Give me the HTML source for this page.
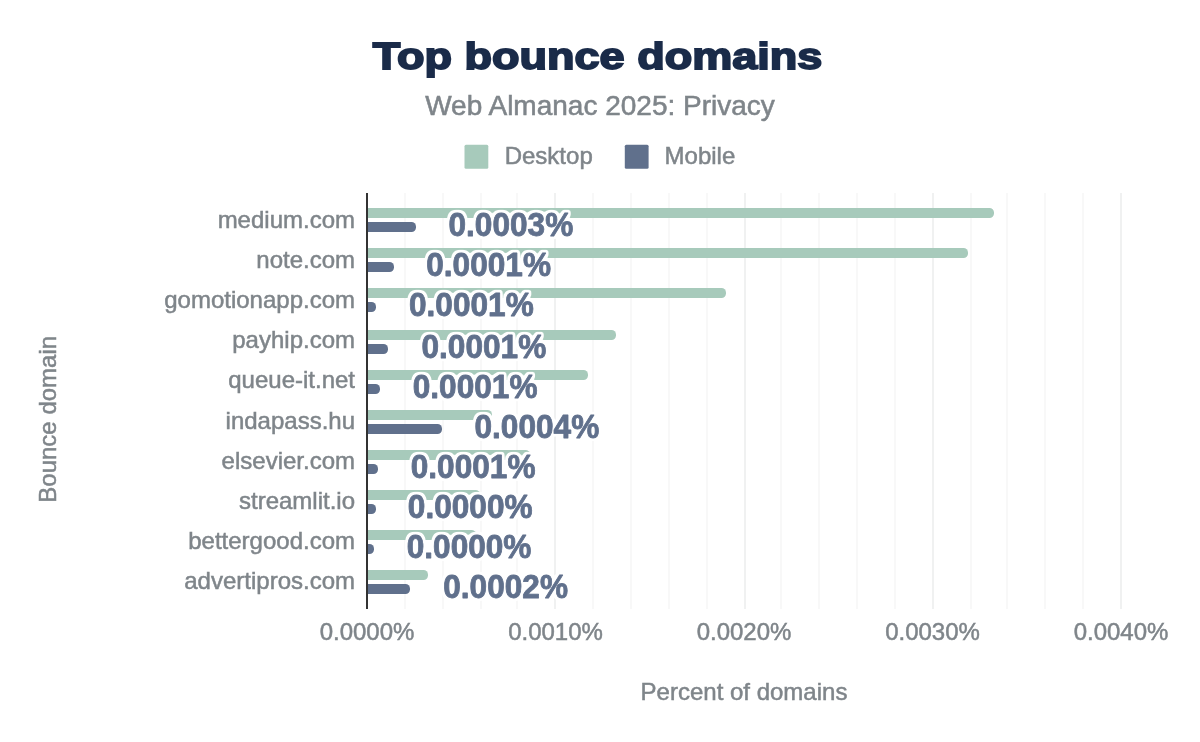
<!DOCTYPE html>
<html lang="en"><head><meta charset="utf-8"><title>Top bounce domains</title>
<style>
html,body{margin:0;padding:0;background:#fff;}
body{width:1200px;height:742px;overflow:hidden;}
svg{display:block;}
text{font-family:"Liberation Sans",Arial,Helvetica,sans-serif;}
.t{font-size:24px;fill:#7f858a;stroke:#7f858a;stroke-width:0.5px;}
.dl{font-size:32px;font-weight:bold;fill:#60708c;stroke:#60708c;stroke-width:0.8px;stroke-linejoin:round;filter:url(#halo);}
</style></head><body>
<svg width="1200" height="742" viewBox="0 0 1200 742">
<rect width="1200" height="742" fill="#fff"/>
<filter id="halo" x="-6%" y="-20%" width="112%" height="140%" color-interpolation-filters="sRGB">
<feMorphology in="SourceAlpha" operator="dilate" radius="1.6" result="m"/>
<feGaussianBlur in="m" stdDeviation="0.9" result="b"/>
<feComponentTransfer in="b" result="t"><feFuncA type="linear" slope="3.5" intercept="-0.6"/></feComponentTransfer>
<feFlood flood-color="#fff" result="w"/>
<feComposite in="w" in2="t" operator="in" result="h"/>
<feMerge><feMergeNode in="h"/><feMergeNode in="SourceGraphic"/></feMerge>
</filter>
<text id="title" x="597.6" y="68.6" text-anchor="middle" font-size="37.5" font-weight="bold" fill="#1a2b49" stroke="#1a2b49" stroke-width="1.8" stroke-linejoin="miter" textLength="449.6" lengthAdjust="spacingAndGlyphs">Top bounce domains</text>
<text id="sub" x="600" y="115" text-anchor="middle" font-size="28" fill="#7f858a" stroke="#7f858a" stroke-width="0.55">Web Almanac 2025: Privacy</text>
<rect x="464.5" y="144.8" width="23.8" height="24" rx="1.5" fill="#a7cabb"/>
<text class="t" x="504.7" y="163.7">Desktop</text>
<rect x="624.8" y="144.8" width="23.8" height="24" rx="1.5" fill="#60708c"/>
<text class="t" x="664.6" y="163.7">Mobile</text>
<rect x="404" y="193" width="2" height="416" fill="#f8f8f8"/>
<rect x="442" y="193" width="2" height="416" fill="#f8f8f8"/>
<rect x="480" y="193" width="2" height="416" fill="#f8f8f8"/>
<rect x="516" y="193" width="2" height="416" fill="#f8f8f8"/>
<rect x="554" y="193" width="2" height="416" fill="#f0f1f1"/>
<rect x="592" y="193" width="2" height="416" fill="#f8f8f8"/>
<rect x="630" y="193" width="2" height="416" fill="#f8f8f8"/>
<rect x="668" y="193" width="2" height="416" fill="#f8f8f8"/>
<rect x="706" y="193" width="2" height="416" fill="#f8f8f8"/>
<rect x="744" y="193" width="2" height="416" fill="#f0f1f1"/>
<rect x="780" y="193" width="2" height="416" fill="#f8f8f8"/>
<rect x="818" y="193" width="2" height="416" fill="#f8f8f8"/>
<rect x="856" y="193" width="2" height="416" fill="#f8f8f8"/>
<rect x="894" y="193" width="2" height="416" fill="#f8f8f8"/>
<rect x="932" y="193" width="2" height="416" fill="#f0f1f1"/>
<rect x="970" y="193" width="2" height="416" fill="#f8f8f8"/>
<rect x="1006" y="193" width="2" height="416" fill="#f8f8f8"/>
<rect x="1044" y="193" width="2" height="416" fill="#f8f8f8"/>
<rect x="1082" y="193" width="2" height="416" fill="#f8f8f8"/>
<rect x="1120" y="193" width="2" height="416" fill="#f0f1f1"/>
<path d="M367.00 208.00 H989.50 a4.5 4.5 0 0 1 4.5 4.5 v1 a4.5 4.5 0 0 1 -4.5 4.5 H367.00 Z" fill="#a7cabb"/>
<path d="M367.00 222.00 H411.50 a4.5 4.5 0 0 1 4.5 4.5 v1 a4.5 4.5 0 0 1 -4.5 4.5 H367.00 Z" fill="#60708c"/>
<path d="M367.00 248.00 H963.50 a4.5 4.5 0 0 1 4.5 4.5 v1 a4.5 4.5 0 0 1 -4.5 4.5 H367.00 Z" fill="#a7cabb"/>
<path d="M367.00 262.00 H389.50 a4.5 4.5 0 0 1 4.5 4.5 v1 a4.5 4.5 0 0 1 -4.5 4.5 H367.00 Z" fill="#60708c"/>
<path d="M367.00 288.00 H721.50 a4.5 4.5 0 0 1 4.5 4.5 v1 a4.5 4.5 0 0 1 -4.5 4.5 H367.00 Z" fill="#a7cabb"/>
<path d="M367.00 302.00 H371.50 a4.5 4.5 0 0 1 4.5 4.5 v1 a4.5 4.5 0 0 1 -4.5 4.5 H367.00 Z" fill="#60708c"/>
<path d="M367.00 330.00 H611.50 a4.5 4.5 0 0 1 4.5 4.5 v1 a4.5 4.5 0 0 1 -4.5 4.5 H367.00 Z" fill="#a7cabb"/>
<path d="M367.00 344.00 H383.50 a4.5 4.5 0 0 1 4.5 4.5 v1 a4.5 4.5 0 0 1 -4.5 4.5 H367.00 Z" fill="#60708c"/>
<path d="M367.00 370.00 H583.50 a4.5 4.5 0 0 1 4.5 4.5 v1 a4.5 4.5 0 0 1 -4.5 4.5 H367.00 Z" fill="#a7cabb"/>
<path d="M367.00 384.00 H375.50 a4.5 4.5 0 0 1 4.5 4.5 v1 a4.5 4.5 0 0 1 -4.5 4.5 H367.00 Z" fill="#60708c"/>
<path d="M367.00 410.00 H487.50 a4.5 4.5 0 0 1 4.5 4.5 v1 a4.5 4.5 0 0 1 -4.5 4.5 H367.00 Z" fill="#a7cabb"/>
<path d="M367.00 424.00 H437.50 a4.5 4.5 0 0 1 4.5 4.5 v1 a4.5 4.5 0 0 1 -4.5 4.5 H367.00 Z" fill="#60708c"/>
<path d="M367.00 450.00 H525.50 a4.5 4.5 0 0 1 4.5 4.5 v1 a4.5 4.5 0 0 1 -4.5 4.5 H367.00 Z" fill="#a7cabb"/>
<path d="M367.00 464.00 H373.50 a4.5 4.5 0 0 1 4.5 4.5 v1 a4.5 4.5 0 0 1 -4.5 4.5 H367.00 Z" fill="#60708c"/>
<path d="M367.00 490.00 H475.50 a4.5 4.5 0 0 1 4.5 4.5 v1 a4.5 4.5 0 0 1 -4.5 4.5 H367.00 Z" fill="#a7cabb"/>
<path d="M367.00 504.00 H371.50 a4.5 4.5 0 0 1 4.5 4.5 v1 a4.5 4.5 0 0 1 -4.5 4.5 H367.00 Z" fill="#60708c"/>
<path d="M367.00 530.00 H471.50 a4.5 4.5 0 0 1 4.5 4.5 v1 a4.5 4.5 0 0 1 -4.5 4.5 H367.00 Z" fill="#a7cabb"/>
<path d="M367.00 544.00 H369.50 a4.5 4.5 0 0 1 4.5 4.5 v1 a4.5 4.5 0 0 1 -4.5 4.5 H367.00 Z" fill="#60708c"/>
<path d="M367.00 570.00 H423.50 a4.5 4.5 0 0 1 4.5 4.5 v1 a4.5 4.5 0 0 1 -4.5 4.5 H367.00 Z" fill="#a7cabb"/>
<path d="M367.00 584.00 H405.50 a4.5 4.5 0 0 1 4.5 4.5 v1 a4.5 4.5 0 0 1 -4.5 4.5 H367.00 Z" fill="#60708c"/>
<rect x="366" y="193" width="2" height="416" fill="#333"/>
<text class="t" x="355" y="228.00" text-anchor="end">medium.com</text>
<text class="t" x="355" y="268.10" text-anchor="end">note.com</text>
<text class="t" x="355" y="308.20" text-anchor="end">gomotionapp.com</text>
<text class="t" x="355" y="348.30" text-anchor="end">payhip.com</text>
<text class="t" x="355" y="388.40" text-anchor="end">queue-it.net</text>
<text class="t" x="355" y="428.50" text-anchor="end">indapass.hu</text>
<text class="t" x="355" y="468.60" text-anchor="end">elsevier.com</text>
<text class="t" x="355" y="508.70" text-anchor="end">streamlit.io</text>
<text class="t" x="355" y="548.80" text-anchor="end">bettergood.com</text>
<text class="t" x="355" y="588.90" text-anchor="end">advertipros.com</text>
<text class="dl" transform="translate(448.50,236.40) scale(0.988,1.03)">0.0003%</text>
<text class="dl" transform="translate(426.25,276.40) scale(0.988,1.03)">0.0001%</text>
<text class="dl" transform="translate(409.00,316.40) scale(0.988,1.03)">0.0001%</text>
<text class="dl" transform="translate(421.50,358.40) scale(0.988,1.03)">0.0001%</text>
<text class="dl" transform="translate(412.75,398.40) scale(0.988,1.03)">0.0001%</text>
<text class="dl" transform="translate(474.50,438.40) scale(0.988,1.03)">0.0004%</text>
<text class="dl" transform="translate(410.75,478.40) scale(0.988,1.03)">0.0001%</text>
<text class="dl" transform="translate(407.80,518.40) scale(0.988,1.03)">0.0000%</text>
<text class="dl" transform="translate(406.70,558.40) scale(0.988,1.03)">0.0000%</text>
<text class="dl" transform="translate(443.25,598.40) scale(0.988,1.03)">0.0002%</text>
<text class="t" x="367.00" y="639.8" text-anchor="middle">0.0000%</text>
<text class="t" x="555.50" y="639.8" text-anchor="middle">0.0010%</text>
<text class="t" x="744.00" y="639.8" text-anchor="middle">0.0020%</text>
<text class="t" x="932.50" y="639.8" text-anchor="middle">0.0030%</text>
<text class="t" x="1121.00" y="639.8" text-anchor="middle">0.0040%</text>
<text class="t" x="744" y="699.5" text-anchor="middle">Percent of domains</text>
<text class="t" transform="translate(56,419.3) rotate(-90)" text-anchor="middle">Bounce domain</text>
</svg></body></html>
